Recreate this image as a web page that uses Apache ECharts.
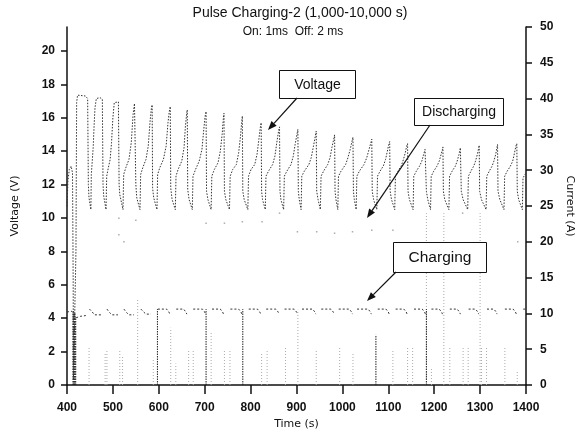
<!DOCTYPE html>
<html>
<head>
<meta charset="utf-8">
<script src="https://cdn.jsdelivr.net/npm/echarts@6/dist/echarts.min.js"></script>
<style>
html,body{margin:0;padding:0;background:#fff;}
#chart{width:577px;height:430px;}
</style>
</head>
<body>
<div id="chart"></div>
<script>
// ---------------- DATA ----------------
const titleText = 'Pulse Charging-2 (1,000-10,000 s)';
const subtitleText = 'On: 1ms  Off: 2 ms';
const timeTicks = [400, 500, 600, 700, 800, 900, 1000, 1100, 1200, 1300, 1400];
const voltageTicks = [0, 2, 4, 6, 8, 10, 12, 14, 16, 18, 20];
const currentTicks = [0, 5, 10, 15, 20, 25, 30, 35, 40, 45, 50];

// Voltage (V) vs time (s)
const voltage = [
  [400,10.7],[402,12.2],[405,12.9],[409,13.1],[412,12.7],[413.5,6],[414,0.3],[418,0.3],[419.5,8],[421,16.9],[423,17.35],[440,17.3],[445,17.15],[446.5,12],[448,11.2],[452,10.5],
  [453,12.6],[455,13.4],[457,14.2],[459,15.5],[461,16.6],[464,17.15],[472,17.2],[477,17.1],[478.5,12],[480,11.3],[485,10.5],
  [486.5,12.5],[490,13.0],[494,13.5],[497,14.5],[500,16],[503,16.9],[507,17.0],[512,16.95],[513.5,12],[515,11.4],[522,10.5],
  [523.5,12.6],[528,13.0],[535,13.5],[540,14.5],[544,16.2],[547,16.85],[549,16.9],[550,12],[552,11.2],[559,10.5],
  [560.5,12.6],[565,13.0],[572,13.5],[577,14.3],[581,15.8],[584,16.6],[585.5,16.77],[586.5,11.8],[589,11.2],[596,10.5],
  [597.5,12.6],[602,13.0],[610,13.5],[616,14.3],[620,15.7],[623,16.4],[625,16.67],[626,11.8],[629,11.1],[636,10.5],
  [637.5,12.5],[642,12.9],[650,13.4],[655,14.2],[658,15.5],[661,16.3],[662,16.47],[663,11.7],[666,11.1],[673,10.5],
  [674.5,12.5],[680,12.9],[688,13.4],[694,14.1],[698,15.3],[701,16.1],[703,16.37],[704,11.6],[707,11.1],[714,10.5],
  [715.5,12.5],[721,12.9],[729,13.3],[734,14.0],[738,15.0],[740.5,15.9],[742,16.27],[743,11.6],[746,11.1],[754,10.5],
  [755.5,12.5],[761,12.9],[769,13.2],[774,13.9],[778,14.9],[780.5,15.7],[782,16.1],[783,11.6],[786,11.1],[794,10.5],
  [795.5,12.5],[801,12.9],[809,13.2],[814,13.8],[818,14.7],[821,15.4],[823,15.7],[824,11.6],[826,11.1],[832,10.5],
  [833.5,12.5],[839,12.8],[848,13.2],[853,13.7],[857,14.5],[861,15.2],[863,15.45],[864,11.6],[866,11.1],[872,10.5],
  [873.5,12.5],[879,12.8],[888,13.2],[893,13.7],[897,14.4],[901,15.0],[903,15.3],[904,11.6],[906,11.1],[910,10.5],
  [911.5,12.5],[917,12.8],[927,13.2],[932,13.6],[937,14.3],[941,14.9],[943,15.2],[944,11.6],[947,11.1],[952,10.5],
  [953.5,12.5],[959,12.8],[968,13.2],[973,13.6],[977,14.2],[981,14.7],[983,14.97],[984,11.6],[986,11.1],[990,10.5],
  [991.5,12.5],[997,12.8],[1007,13.2],[1012,13.6],[1017,14.1],[1021,14.6],[1023,14.83],[1024,11.6],[1026,11.1],[1030,10.5],
  [1031.5,12.5],[1037,12.8],[1047,13.2],[1053,13.6],[1058,14.1],[1062,14.5],[1064,14.71],[1065,11.6],[1068,11.1],[1075,10.5],
  [1076.5,12.5],[1082,12.8],[1089,13.1],[1094,13.5],[1098,14.0],[1101,14.4],[1103,14.57],[1104,11.6],[1107,11.1],[1114,10.5],
  [1115.5,12.5],[1121,12.8],[1128,13.1],[1133,13.5],[1137,13.9],[1140,14.3],[1142,14.45],[1143,11.6],[1146,11.1],[1154,10.5],
  [1155.5,12.5],[1161,12.8],[1168,13.1],[1173,13.4],[1177,13.8],[1180,14.1],[1182,14.2],[1183,11.6],[1186,11.1],[1192,10.5],
  [1193.5,12.5],[1199,12.8],[1206,13.1],[1211,13.4],[1215,13.8],[1218,14.1],[1219,14.25],[1220,11.6],[1223,11.1],[1232,10.5],
  [1233.5,12.5],[1239,12.8],[1246,13.1],[1250,13.4],[1254,13.8],[1257,14.2],[1258,14.3],[1259,11.6],[1263,11.1],[1273,10.5],
  [1274.5,12.5],[1280,12.8],[1286,13.1],[1290,13.4],[1294,13.8],[1297,14.2],[1298,14.35],[1299,11.6],[1303,11.1],[1313,10.5],
  [1314.5,12.5],[1320,12.8],[1326,13.1],[1330,13.4],[1334,13.8],[1337,14.25],[1338,14.4],[1339,11.6],[1343,11.1],[1352,10.5],
  [1353.5,12.5],[1359,12.8],[1366,13.1],[1371,13.4],[1375,13.9],[1378,14.3],[1380,14.45],[1381,11.6],[1384,11.1],[1392,10.5],
  [1393.5,12.4],[1400,12.7]
];

// Charging current (A) plateaus, null = no sample drawn
const chargingCurrent = [
  [400,10.2],[411,10.3],[412,null],
  [420,9.4],[430,9.6],[441,9.7],[442,null],
  [449,10.6],[455,10.2],[460,9.8],[474,9.8],[475,null],
  [487,10.6],[493,10.1],[498,9.8],[511,9.8],[512,null],
  [524,10.6],[530,10.1],[535,9.8],[546,9.8],[547,null],
  [561,10.6],[567,10.2],[572,9.9],[583,9.9],[584,null],
  [598,10.6],[617,10.6],[622,10.2],[624,9.9],[625,null],
  [638,10.6],[654,10.6],[659,10.2],[661,9.9],[662,null],
  [675,10.6],[695,10.6],[700,10.2],[702,9.9],[703,null],
  [716,10.6],[734,10.6],[739,10.2],[741,9.9],[742,null],
  [756,10.6],[774,10.6],[779,10.2],[781,9.9],[782,null],
  [796,10.6],[815,10.6],[820,10.2],[822,9.9],[823,null],
  [834,10.6],[855,10.6],[860,10.2],[862,9.9],[863,null],
  [874,10.6],[895,10.6],[900,10.2],[902,9.9],[903,null],
  [912,10.6],[935,10.6],[940,10.2],[942,9.9],[943,null],
  [954,10.6],[975,10.6],[980,10.2],[982,9.9],[983,null],
  [992,10.6],[1015,10.6],[1020,10.2],[1022,9.9],[1023,null],
  [1032,10.6],[1056,10.6],[1061,10.2],[1063,9.9],[1064,null],
  [1077,10.6],[1095,10.6],[1100,10.2],[1102,9.9],[1103,null],
  [1116,10.6],[1134,10.6],[1139,10.2],[1141,9.9],[1142,null],
  [1156,10.6],[1174,10.6],[1179,10.2],[1181,9.9],[1182,null],
  [1194,10.6],[1211,10.6],[1216,10.2],[1218,9.9],[1219,null],
  [1234,10.6],[1250,10.6],[1255,10.2],[1257,9.9],[1258,null],
  [1275,10.6],[1290,10.6],[1295,10.2],[1297,9.9],[1298,null],
  [1315,10.6],[1330,10.6],[1335,10.2],[1337,9.9],[1338,null],
  [1354,10.6],[1372,10.6],[1377,10.2],[1379,9.9],[1380,null],
  [1394,10.6],[1400,10.6]
];

// Charging current falling to zero (A)
const chargeDropTimes = [413, 414.5, 416, 417.5, 419, 597, 703, 783, 1073, 1183];
const chargeDropTops  = [10.3, 10.3, 10.0, 10.0, 9.5, 10.6, 10.6, 10.6, 7.0, 10.6];

// Discharging current pulses (A)
const dischargeTimes   = [448, 483, 487, 515, 521, 554, 588, 626, 637, 665, 675, 714, 743, 755, 824, 836, 876, 903, 943, 994, 1023, 1110, 1142, 1153, 1183, 1194, 1221, 1234, 1263, 1274, 1300, 1303, 1314, 1354, 1381];
const dischargeHeights = [5.3, 4.6, 4.8, 5.0, 4.0, 11.9, 3.8, 8.0, 3.0, 5.0, 5.0, 7.5, 5.0, 5.0, 4.5, 5.0, 5.2, 10.5, 5.0, 5.2, 4.6, 5.0, 5.2, 5.2, 24, 2.5, 24, 5.2, 5.2, 5.2, 24, 5.2, 5.2, 5.2, 1.9];

// Isolated discharging samples (A)
const dischargeDotTimes  = [513, 550, 513, 524, 703, 743, 782, 825, 863, 902, 944, 983, 1022, 1064, 1110, 1262, 1382];
const dischargeDotValues = [23.3, 23.0, 21.0, 20.0, 22.6, 22.6, 22.8, 22.8, 24.0, 21.4, 21.4, 21.2, 21.4, 21.6, 21.6, 24.0, 20.0];

// ---------------- BUILD ----------------
function spikes(times, tops) {
  const out = [];
  times.forEach(function (t, i) {
    out.push([t, 0], [t, tops[i]], [t, null]);
  });
  return out;
}
const chargeDrops = spikes(chargeDropTimes, chargeDropTops);
const dischargeLines = spikes(dischargeTimes, dischargeHeights);
const dischargeDots = dischargeDotTimes.map(function (t, i) { return [t, dischargeDotValues[i]]; });

const tickFont = { fontFamily: '"Liberation Sans", Arial, sans-serif', fontSize: 12, fontWeight: 'bold', color: '#111' };
const nameFont = { fontFamily: '"DejaVu Sans", sans-serif', fontSize: 11, color: '#111' };

const chart = echarts.init(document.getElementById('chart'), null, { renderer: 'canvas' });

const boxes = [
  { x: 279, y: 70, w: 76, h: 28, text: 'Voltage', fs: 14 },
  { x: 414, y: 98, w: 89, h: 27, text: 'Discharging', fs: 14 },
  { x: 393, y: 242, w: 93, h: 30, text: 'Charging', fs: 15.5 }
];
const arrows = [
  { from: [297, 98], to: [268, 130] },
  { from: [430, 125], to: [367, 218] },
  { from: [396, 272], to: [367, 301] }
];

const graphics = [];
graphics.push({
  type: 'text', x: 300, y: 13, style: { text: titleText, font: '14px "Liberation Sans", Arial, sans-serif', fill: '#111', textAlign: 'center', textVerticalAlign: 'middle' }
});
graphics.push({
  type: 'text', x: 293, y: 32, style: { text: subtitleText, font: '12px "Liberation Sans", Arial, sans-serif', fill: '#111', textAlign: 'center', textVerticalAlign: 'middle' }
});
boxes.forEach(function (b) {
  graphics.push({ type: 'rect', shape: { x: b.x + 0.5, y: b.y + 0.5, width: b.w, height: b.h }, style: { fill: '#fff', stroke: '#111', lineWidth: 1 }, z: 100 });
  graphics.push({ type: 'text', x: b.x + b.w / 2 + 0.5, y: b.y + b.h / 2 + 1, style: { text: b.text, font: b.fs + 'px "Liberation Sans", Arial, sans-serif', fill: '#111', textAlign: 'center', textVerticalAlign: 'middle' }, z: 101 });
});
arrows.forEach(function (a) {
  const dx = a.to[0] - a.from[0], dy = a.to[1] - a.from[1];
  const len = Math.sqrt(dx * dx + dy * dy);
  const ux = dx / len, uy = dy / len;
  const hl = 9, hw = 3.5;
  const bx = a.to[0] - ux * hl, by = a.to[1] - uy * hl;
  graphics.push({ type: 'line', shape: { x1: a.from[0], y1: a.from[1], x2: bx, y2: by }, style: { stroke: '#111', lineWidth: 1.2 }, z: 100 });
  graphics.push({ type: 'polygon', shape: { points: [[a.to[0], a.to[1]], [bx - uy * hw, by + ux * hw], [bx + uy * hw, by - ux * hw]] }, style: { fill: '#111' }, z: 100 });
});

const option = {
  backgroundColor: '#fff',
  animation: false,
  grid: { left: 67, right: 51, top: 27, bottom: 45, containLabel: false, outerBoundsMode: 'none' },
  xAxis: {
    type: 'value', min: 400, max: 1400, interval: 100,
    name: 'Time (s)', nameLocation: 'middle', nameGap: 34,
    nameTextStyle: nameFont,
    axisLine: { show: true, onZero: false, lineStyle: { color: '#111', width: 1.5 } },
    axisTick: { show: true, inside: false, length: 9, lineStyle: { color: '#111', width: 1.5 } },
    axisLabel: Object.assign({ margin: 17, customValues: timeTicks, formatter: function (v) { return String(v); } }, tickFont),
    splitLine: { show: false }
  },
  yAxis: [
    {
      type: 'value', min: 0, max: 21.43, interval: 2, position: 'left',
      name: 'Voltage (V)', nameLocation: 'middle', nameGap: 46, nameRotate: 90,
      nameTextStyle: nameFont,
      axisLine: { show: true, lineStyle: { color: '#111', width: 1.5 } },
      axisTick: { show: true, length: 6, customValues: voltageTicks, lineStyle: { color: '#111', width: 1.5 } },
      axisLabel: Object.assign({ margin: 12, customValues: voltageTicks }, tickFont),
      splitLine: { show: false }
    },
    {
      type: 'value', min: 0, max: 50, interval: 5, position: 'right',
      name: 'Current (A)', nameLocation: 'middle', nameGap: 36, nameRotate: -90,
      nameTextStyle: nameFont,
      axisLine: { show: true, lineStyle: { color: '#111', width: 1.5 } },
      axisTick: { show: true, length: 6, customValues: currentTicks, lineStyle: { color: '#111', width: 1.5 } },
      axisLabel: Object.assign({ margin: 14, customValues: currentTicks }, tickFont),
      splitLine: { show: false }
    }
  ],
  series: [
    {
      name: 'Discharging', type: 'line', yAxisIndex: 1, data: dischargeLines,
      showSymbol: false, symbol: 'none', connectNulls: false, silent: true,
      lineStyle: { color: '#aaa', width: 1, type: [1, 2] }, z: 2
    },
    {
      name: 'Discharging samples', type: 'scatter', yAxisIndex: 1, data: dischargeDots,
      symbol: 'rect', symbolSize: 1.5, silent: true,
      itemStyle: { color: '#999' }, z: 2
    },
    {
      name: 'Charging drops', type: 'line', yAxisIndex: 1, data: chargeDrops,
      showSymbol: false, symbol: 'none', connectNulls: false, silent: true,
      lineStyle: { color: '#222', width: 1, type: [1.5, 1] }, z: 3
    },
    {
      name: 'Charging', type: 'line', yAxisIndex: 1, data: chargingCurrent,
      showSymbol: false, symbol: 'none', connectNulls: false, silent: true,
      lineStyle: { color: '#333', width: 1, type: [2, 2] }, z: 3
    },
    {
      name: 'Voltage', type: 'line', yAxisIndex: 0, data: voltage,
      showSymbol: false, symbol: 'none', connectNulls: false, silent: true,
      lineStyle: { color: '#333', width: 1, type: [1.5, 1.5] }, z: 4
    }
  ],
  graphic: graphics
};
chart.setOption(option);
</script>
</body>
</html>
